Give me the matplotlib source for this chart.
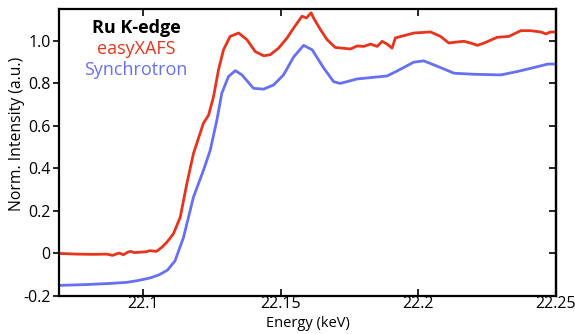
"""Ru K-edge XANES: easyXAFS lab spectrometer vs synchrotron reference."""
import matplotlib.pyplot as plt
from matplotlib.ticker import FuncFormatter

plt.rcParams['font.family'] = ['Open Sans', 'DejaVu Sans']

# energy (keV) / normalized intensity
easy_e = [22.07, 22.076, 22.082, 22.087, 22.089, 22.0905, 22.0915, 22.093,
          22.0945, 22.0955, 22.097, 22.099, 22.101, 22.1027, 22.105, 22.107,
          22.1087, 22.1111, 22.1136, 22.116, 22.1184, 22.122, 22.1239, 22.1257,
          22.1275, 22.1293, 22.1317, 22.1348, 22.1378, 22.1408, 22.1439, 22.1463,
          22.1493, 22.1524, 22.1548, 22.1578, 22.1594, 22.1611, 22.162, 22.1645,
          22.1669, 22.1699, 22.1754, 22.1778, 22.1802, 22.1827, 22.1851, 22.1869,
          22.1887, 22.1905, 22.1917, 22.1984, 22.2045, 22.2081, 22.2111, 22.2142,
          22.2166, 22.219, 22.2215, 22.2239, 22.2287, 22.2329, 22.2372, 22.2408,
          22.2445, 22.2463, 22.2481, 22.25]
easy_mu = [0.0, -0.003, -0.004, -0.003, -0.009, -0.002, 0.002, -0.006,
           0.006, 0.01, 0.004, 0.006, 0.008, 0.013, 0.01, 0.03,
           0.052, 0.092, 0.17, 0.328, 0.47, 0.612, 0.651, 0.738,
           0.864, 0.958, 1.021, 1.037, 1.006, 0.95, 0.93, 0.935,
           0.966, 1.014, 1.061, 1.116, 1.108, 1.132, 1.108, 1.053,
           1.006, 0.969, 0.962, 0.976, 0.974, 0.985, 0.974, 0.998,
           0.985, 0.966, 1.014, 1.037, 1.042, 1.021, 0.99, 0.995,
           0.998, 0.99, 0.979, 0.99, 1.017, 1.021, 1.048, 1.048,
           1.042, 1.033, 1.042, 1.042]

sync_e = [22.07, 22.08, 22.088, 22.094, 22.098, 22.1027, 22.106, 22.109,
          22.1117, 22.1148, 22.1184, 22.122, 22.1245, 22.1269, 22.1287, 22.1311,
          22.1336, 22.136, 22.1402, 22.1439, 22.1475, 22.1511, 22.1548, 22.1584,
          22.1615, 22.1657, 22.1693, 22.1717, 22.1778, 22.1887, 22.1924, 22.1984,
          22.202, 22.2057, 22.213, 22.2202, 22.23, 22.236, 22.2421, 22.247,
          22.25]
sync_mu = [-0.15, -0.146, -0.141, -0.136, -0.128, -0.115, -0.1, -0.078,
           -0.035, 0.076, 0.265, 0.39, 0.486, 0.627, 0.754, 0.832,
           0.86, 0.84, 0.777, 0.773, 0.793, 0.84, 0.925, 0.979,
           0.958, 0.872, 0.808, 0.80, 0.821, 0.835, 0.859, 0.90,
           0.906, 0.887, 0.848, 0.843, 0.84, 0.856, 0.875, 0.891,
           0.891]

RED = '#e8341c'
BLUE = '#6670f2'
YTICKS = [-0.2, 0, 0.2, 0.4, 0.6, 0.8, 1.0]

fig = plt.figure(figsize=(5.75, 3.34), dpi=100)
ax = fig.add_axes([59 / 575, 1 - 296 / 334, 497 / 575, 287 / 334])

ax.plot(easy_e, easy_mu, color=RED, lw=2)
ax.plot(sync_e, sync_mu, color=BLUE, lw=2)

ax.set_xlim(22.0696, 22.25)
ax.set_ylim(-0.2, 1.15)
ax.set_xticks([22.1, 22.15, 22.2, 22.25])
ax.set_yticks(YTICKS)
ax.xaxis.set_major_formatter(FuncFormatter(lambda v, _: f'{v:g}'))
ax.yaxis.set_major_formatter(
    FuncFormatter(lambda v, _: '0' if abs(v) < 1e-9 else f'{v:.1f}'))

for s in ax.spines.values():
    s.set_linewidth(1.6)
ax.tick_params(axis='x', direction='in', top=True, length=5, width=1.2,
               labelsize=11.5, pad=0)
ax.tick_params(axis='y', direction='out', length=4, width=1.2,
               labelsize=11.5, pad=2)

# right side carries inward ticks only
sec = ax.secondary_yaxis('right')
sec.set_yticks(YTICKS)
sec.tick_params(direction='in', length=5, width=1.2, labelright=False)
sec.spines['right'].set_linewidth(1.6)

ax.set_xlabel('Energy (keV)', fontsize=10.5)
ax.xaxis.set_label_coords(0.5, -0.068)
ax.set_ylabel('Norm. Intensity (a.u.)', fontsize=11.3)
ax.yaxis.set_label_coords(-0.068, 0.564)

ax.text(0.155, 0.9335, 'Ru K-edge', transform=ax.transAxes, fontsize=13,
        fontweight='bold', ha='center', va='center')
ax.text(0.155, 0.86, 'easyXAFS', transform=ax.transAxes, fontsize=13,
        color=RED, ha='center', va='center')
ax.text(0.155, 0.787, 'Synchrotron', transform=ax.transAxes, fontsize=13,
        color=BLUE, ha='center', va='center')

fig.savefig('out.png', dpi=100)
